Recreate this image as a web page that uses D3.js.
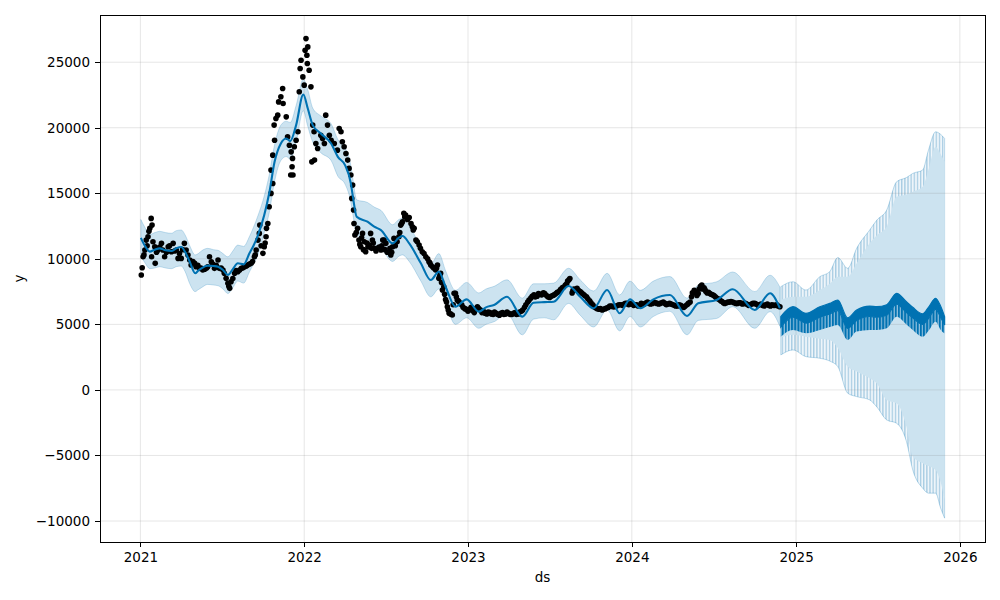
<!DOCTYPE html>
<html>
<head>
<meta charset="utf-8">
<script src="https://cdn.jsdelivr.net/npm/d3@7"></script>
<style>
  html, body { margin: 0; padding: 0; background: #fff; }
  svg { display: block; font-family: 'DejaVu Sans', sans-serif; }
</style>
</head>
<body>
<div id="chart"></div>
<script>
// Prophet-style forecast plot: observed y (black dots), fitted yhat + interval,
// one year of forecast with a widening interval and a weekly wiggle.

// days since 2021-01-01, observed y
const observed = [
  [2,8765],[4,9324],[6,10160],[8,10300],[10,10670],[13,11430],[15,11000],[17,11685],[19,12100],[21,12325],[24,13085],[25,10160],[26,12575],
  [28,11300],[32,10920],[33,9657],[36,10500],[39,10670],[43,10900],[47,11180],[50,10670],[54,10160],[58,10500],[62,10920],[65,11000],[69,10540],[73,11180],
  [76,10600],[80,10670],[84,10035],[87,10400],[91,10035],[94,10700],[98,11180],[102,10670],[106,10290],[110,9910],[113,9530],[117,9800],[121,9657],[124,9400],
  [128,9500],[132,9275],[135,9300],[139,9146],[143,9200],[147,9275],[150,9400],[154,10160],[158,9780],[161,9600],[165,9275],[169,9500],[173,9910],[176,9275],
  [180,9300],[184,9146],[187,8900],[191,8510],[195,8130],[197,7900],[199,7750],[202,8255],[206,8500],[210,8895],[213,9100],[217,9020],[221,9150],[225,9275],
  [228,9300],[232,9400],[236,9450],[239,9530],[243,9600],[247,9657],[250,9800],[254,10160],[256,10300],[258,10670],
  [262,11430],[265,11940],[266,12575],[269,11000],[273,10420],[276,10920],[278,11200],[280,11685],[281,12325],[284,12700],[287,13970],[291,14990],
  [291,16770],[295,15750],[295,17910],[298,20200],[299,19050],[302,20710],[306,20960],[308,21970],[313,22360],[317,22990],
  [318,21850],[325,20830],[328,19300],[332,18670],[335,16390],[336,18160],[338,17020],[339,17660],[340,16390],[343,18545],
  [347,19050],[351,19690],[354,22740],[356,24520],[358,25150],[362,23880],[365,23250],[367,25915],[369,26800],[371,25530],
  [372,24900],[373,26165],[376,24390],[380,23120],[382,17400],[384,20200],[387,19690],[388,17530],[391,18800],[395,18420],
  [402,19430],[406,19180],[410,18800],[413,20960],[417,20200],[421,19430],[425,19050],[432,18800],[439,18290],[443,19940],
  [447,19690],[450,18930],[454,18545],[458,18040],[462,17530],[465,16900],[469,16390],[471,14610],[473,15625],[475,13720],
  [476,12700],[478,11815],[481,12000],[484,12325],[487,11430],[489,11100],[491,10920],[493,11600],[495,11940],[497,10700],[499,11300],[502,10540],
  [505,11200],[507,10900],[510,11050],[513,11940],[515,10800],[517,11430],[519,11200],[521,10800],[525,10600],[528,10800],[532,10900],[536,10670],
  [538,11000],[540,11430],[543,11430],[545,10700],[547,11180],[550,10500],[554,10480],[556,10800],[558,10290],[560,10500],[562,10920],
  [565,11560],[568,11000],[572,11300],[576,11685],[578,12000],[580,12575],[582,12700],[584,12830],[587,13470],[589,13200],[591,13340],[595,13000],
  [599,13150],[603,12700],[606,12450],[608,12200],[610,12325],[614,11430],[617,11300],
  [621,11050],[624,10800],[628,10540],[632,10400],[636,10160],[640,10000],[643,9780],[645,9700],[647,9530],[651,9400],[654,9275],[658,9146],
  [660,9300],[662,9530],[665,8510],[667,8700],[669,8895],[671,8200],[673,7620],[676,7875],[678,7300],[680,6900],[682,6700],[684,6350],[686,6100],
  [688,5845],[691,5800],[695,5716],[697,6500],[699,7370],[702,7370],[704,7100],[706,6860],[708,6800],
  [710,6730],[713,6600],[716,6500],[719,6300],[723,6200],[726,6150],[730,6000],[733,6150],[737,6300],[740,6050],[744,5900],[747,6200],
  [751,6350],[754,6200],[758,6100],[761,5900],[765,5970],[768,5850],[772,5800],[775,5950],
  [779,5900],[782,5800],[786,5750],[789,5950],[793,5850],[796,5750],[800,5700],[803,5850],[807,5900],[810,5750],[814,5800],[817,5950],
  [821,5850],[824,5750],[828,5750],[831,5850],[835,5900],[838,5750],[842,5800],[845,5950],
  [849,6000],[852,6100],[856,6300],[859,6500],[863,6700],[866,6850],[870,7000],[873,7150],[877,7250],[880,7100],[884,7150],[887,7350],
  [891,7300],[894,7250],[898,7400],[901,7350],[905,7200],[908,7100],[912,7050],[915,7150],
  [919,7200],[922,7250],[926,7350],[929,7450],[933,7500],[936,7650],[940,7800],[943,7850],[947,8000],[950,8100],[952,8300],[955,8400],
  [957,8500],[962,7400],[964,7600],[966,7700],[969,7600],[973,7750],[976,7600],
  [980,7500],[983,7400],[987,7300],[990,7200],[994,7100],[997,6950],[1001,6800],[1004,6650],[1008,6500],[1011,6350],[1015,6250],[1018,6200],
  [1022,6150],[1025,6200],[1029,6100],[1032,6150],[1036,6200],[1039,6250],[1043,6300],[1046,6400],
  [1050,6400],[1053,6350],[1057,6350],[1060,6400],[1064,6450],[1067,6500],[1071,6500],[1074,6450],[1078,6550],[1081,6600],[1085,6600],
  [1088,6500],[1092,6550],[1095,6600],[1099,6450],[1102,6500],[1106,6500],[1109,6400],[1113,6450],[1116,6600],
  [1120,6550],[1123,6550],[1127,6650],[1130,6700],[1134,6600],[1137,6550],[1141,6600],[1144,6700],[1148,6650],[1151,6600],[1155,6550],
  [1158,6600],[1162,6650],[1165,6700],[1169,6600],[1172,6500],[1176,6550],[1179,6600],[1183,6550],[1186,6500],
  [1190,6450],[1193,6400],[1197,6400],[1200,6500],[1204,6450],[1207,6350],[1211,6300],[1214,6400],[1218,6500],[1221,6600],[1225,6700],
  [1228,7100],[1230,7400],[1234,7600],[1237,7450],[1240,7200],[1243,7350],[1245,7700],[1248,7900],
  [1251,8000],[1253,7700],[1256,7800],[1258,7650],[1260,7500],[1263,7400],[1266,7450],[1269,7350],[1272,7300],[1275,7250],[1278,7200],
  [1281,7100],[1284,7000],[1287,6950],[1290,6900],[1293,6800],[1296,6750],[1299,6650],[1302,6600],
  [1306,6650],[1309,6700],[1313,6700],[1316,6750],[1320,6700],[1323,6650],[1327,6600],[1330,6600],[1334,6650],[1337,6650],[1341,6550],
  [1344,6600],[1348,6600],[1351,6550],[1355,6450],[1358,6500],[1362,6550],[1365,6600],[1369,6600],[1372,6550],
  [1376,6450],[1379,6500],[1383,6550],[1386,6450],[1390,6400],[1393,6500],[1397,6550],[1400,6450],[1404,6400],[1407,6500],[1411,6450],
  [1414,6450],[1418,6500],[1421,6400],[1425,6350]
];

// fitted history: [day, yhat, yhat_lower, yhat_upper]
const fitted = [
  [1,11600,10200,13000],[10,11000,9700,12400],[21,10550,9250,11850],[32,10700,9300,12000],[43,10800,9400,12100],
  [56,10650,9300,12000],[69,10600,9250,11950],[80,10800,9400,12150],[91,10900,9450,12200],[100,10500,9000,11800],
  [110,9780,8100,11000],[122,8900,7500,10300],[129,9100,7650,10400],[136,9280,7800,10600],[150,9480,8050,10800],
  [163,9450,8000,10700],[173,9400,7950,10650],[184,9150,7700,10400],[195,8770,7350,10150],[206,9220,7800,10600],
  [217,9660,8300,11050],[230,9580,8150,10950],[243,10420,9000,11700],[252,11000,9600,12400],[262,11800,10300,13300],
  [276,13340,12000,14800],[287,15000,13500,16400],[299,17400,15900,18700],[313,18800,17500,20200],[325,19180,17800,20500],
  [334,18980,17600,20400],[347,20200,18900,21700],[363,22540,21300,23700],[373,21470,20100,22900],[384,20200,18900,21500],
  [402,19560,18100,20900],[425,18800,17500,20300],[440,17780,16300,19100],[456,17150,15700,18500],[469,15750,14300,17100],
  [473,14860,13500,16200],[482,13210,11800,14500],[506,12830,11500,14300],[521,12450,11100,13950],[536,12195,10800,13700],
  [562,11180,9800,12600],[576,11610,10200,13000],[584,11740,10300,13100],[599,11180,9800,12500],[625,9660,8300,10900],
  [647,8384,7100,9600],[665,9020,7700,10400],[680,7875,6600,9100],[702,6350,5000,7600],[727,6910,5500,8200],
  [754,5970,4700,7400],[770,6300,5000,7700],[788,6480,5200,7900],[817,7110,5800,8400],[851,5590,4200,7000],
  [876,6655,5400,8100],[900,6700,5500,8100],[921,6730,5350,8150],[954,7930,6600,9280],[980,7110,5700,8400],
  [1010,6230,4800,7550],[1040,7620,6100,8900],[1068,5845,4500,7250],[1091,6910,5600,8300],[1114,6230,4800,7600],
  [1143,6910,5600,8300],[1180,7240,6000,8650],[1218,5640,4200,7000],[1243,6610,5300,8000],[1284,6860,5450,8250],
  [1320,7675,6350,9000],[1369,6100,4700,7500],[1403,7370,5970,8750],[1425,6230,4850,7850]
];

// forecast: [day, yhat top, yhat solid bottom, yhat dip bottom, upper tips, upper base, lower base, lower tips]
const forecast = [
  [1427,5590,4800,4060,7875,6860,4000,2668],
  [1454,6350,5550,4573,8255,7110,4200,3050],
  [1483,5845,5100,4320,7620,7110,4060,2540],
  [1514,6350,5550,4573,8640,7620,3900,2415],
  [1536,6600,5800,4800,9020,8100,3810,2200],
  [1554,6860,6050,4954,10100,8640,3200,1780],
  [1576,5500,4700,3810,9275,8640,1780,-250],
  [1596,6100,5300,4450,10800,9657,1400,-510],
  [1625,6400,5600,4573,12195,11180,890,-760],
  [1641,6350,5550,4573,12957,11800,500,-1300],
  [1663,6500,5700,4700,13720,12450,-760,-2290],
  [1685,7370,6550,5590,15880,14735,-1015,-2540],
  [1707,6730,5900,5000,16200,14900,-2800,-3940],
  [1721,6300,5500,4573,16515,15115,-5080,-6100],
  [1743,5800,5000,4060,16770,15500,-5590,-7490],
  [1756,6300,5450,4500,18290,16800,-5800,-7875],
  [1772,6990,6150,5205,19690,18545,-6100,-7875],
  [1783,6400,5550,4600,19500,18000,-7000,-9000],
  [1792,5590,4950,4300,19180,17400,-8384,-9780]
];

const yTicks = [-10000, -5000, 0, 5000, 10000, 15000, 20000, 25000];
const xYears = [2021, 2022, 2023, 2024, 2025, 2026];

(function () {
  'use strict';
  const W = 1000, H = 600;
  const margin = { top: 15, right: 15, bottom: 58, left: 100 };
  const innerW = W - margin.left - margin.right;
  const innerH = H - margin.top - margin.bottom;
  const BLUE = '#0072B2';
  const day0 = Date.UTC(2021, 0, 1);
  const toDate = d => new Date(day0 + d * 864e5);

  const svg = d3.select('#chart').append('svg').attr('width', W).attr('height', H);
  const g = svg.append('g').attr('transform', `translate(${margin.left},${margin.top})`);

  const x = d3.scaleUtc().domain([toDate(-90), toDate(1882)]).range([0, innerW]);
  const y = d3.scaleLinear().domain([-11600, 28600]).range([innerH, 0]);
  const xd = d => x(toDate(d[0]));

  // weekly stripes for the spiky parts of the forecast
  const weekPx = x(toDate(7)) - x(toDate(0));
  const defs = svg.append('defs');
  function stripes(id, bg, fg, w) {
    const p = defs.append('pattern').attr('id', id)
      .attr('patternUnits', 'userSpaceOnUse').attr('width', weekPx).attr('height', 8);
    p.append('rect').attr('width', weekPx).attr('height', 8).attr('fill', bg);
    p.append('rect').attr('width', w).attr('height', 8).attr('fill', fg);
  }
  stripes('spikes', '#eef5fa', '#a9cde3', 1.3);
  stripes('dips', '#8fbfdd', BLUE, 2);

  const curve = d3.curveMonotoneX;

  // history interval
  g.append('path').datum(fitted)
    .attr('d', d3.area().x(xd).y0(d => y(d[2])).y1(d => y(d[3])).curve(curve))
    .attr('fill', BLUE).attr('fill-opacity', 0.2)
    .attr('stroke', BLUE).attr('stroke-opacity', 0.2).attr('stroke-width', 1);

  // forecast interval: spike zone then solid core
  g.append('path').datum(forecast)
    .attr('d', d3.area().x(xd).y0(d => y(d[7])).y1(d => y(d[4])).curve(curve))
    .attr('fill', 'url(#spikes)')
    .attr('stroke', BLUE).attr('stroke-opacity', 0.25).attr('stroke-width', 1);
  g.append('path').datum(forecast)
    .attr('d', d3.area().x(xd).y0(d => y(d[6])).y1(d => y(d[5])).curve(curve))
    .attr('fill', '#cce3f0');

  // grid
  g.append('g').selectAll('line').data(xYears).join('line')
    .attr('x1', d => x(new Date(Date.UTC(d, 0, 1)))).attr('x2', d => x(new Date(Date.UTC(d, 0, 1))))
    .attr('y1', 0).attr('y2', innerH)
    .attr('stroke', '#808080').attr('stroke-opacity', 0.2).attr('stroke-width', 1);
  g.append('g').selectAll('line').data(yTicks).join('line')
    .attr('y1', d => y(d)).attr('y2', d => y(d)).attr('x1', 0).attr('x2', innerW)
    .attr('stroke', '#808080').attr('stroke-opacity', 0.2).attr('stroke-width', 1);

  // observed points
  g.append('g').selectAll('circle').data(observed).join('circle')
    .attr('cx', xd).attr('cy', d => y(d[1])).attr('r', 2.8).attr('fill', '#000');

  // fitted yhat
  g.append('path').datum(fitted)
    .attr('d', d3.line().x(xd).y(d => y(d[1])).curve(curve))
    .attr('fill', 'none').attr('stroke', BLUE).attr('stroke-width', 2.1);

  // forecast yhat with weekly dips
  g.append('path').datum(forecast)
    .attr('d', d3.area().x(xd).y0(d => y(d[3])).y1(d => y(d[2])).curve(curve))
    .attr('fill', 'url(#dips)');
  g.append('path').datum(forecast)
    .attr('d', d3.area().x(xd).y0(d => y(d[2])).y1(d => y(d[1])).curve(curve))
    .attr('fill', BLUE).attr('stroke', BLUE).attr('stroke-width', 1.2);

  // axes
  const xAxis = d3.axisBottom(x)
    .tickValues(xYears.map(yr => new Date(Date.UTC(yr, 0, 1))))
    .tickFormat(d3.utcFormat('%Y')).tickSize(5).tickPadding(5).tickSizeOuter(0);
  const yAxis = d3.axisLeft(y).tickValues(yTicks).tickFormat(d => d < 0 ? '\u2212' + Math.abs(d) : d)
    .tickSize(5).tickPadding(5).tickSizeOuter(0);
  const gx = g.append('g').attr('transform', `translate(0,${innerH})`).call(xAxis);
  const gy = g.append('g').call(yAxis);
  [gx, gy].forEach(a => {
    a.select('.domain').remove();
    a.selectAll('text').style('font-size', '13.5px').style('fill', '#000')
      .style('font-family', "'DejaVu Sans', sans-serif");
    a.selectAll('line').attr('stroke', '#000').attr('stroke-width', 1).attr('shape-rendering', 'crispEdges');
  });

  // frame
  g.append('rect').attr('x', 0).attr('y', 0).attr('width', innerW).attr('height', innerH)
    .attr('fill', 'none').attr('stroke', '#000').attr('stroke-width', 1).attr('shape-rendering', 'crispEdges');

  // axis labels
  svg.append('text').attr('x', margin.left + innerW / 2).attr('y', 582)
    .attr('text-anchor', 'middle').style('font-size', '13.5px').text('ds');
  svg.append('text').attr('transform', `translate(24,${margin.top + innerH / 2}) rotate(-90)`)
    .attr('text-anchor', 'middle').style('font-size', '13.5px').text('y');
})();
</script>
</body>
</html>
